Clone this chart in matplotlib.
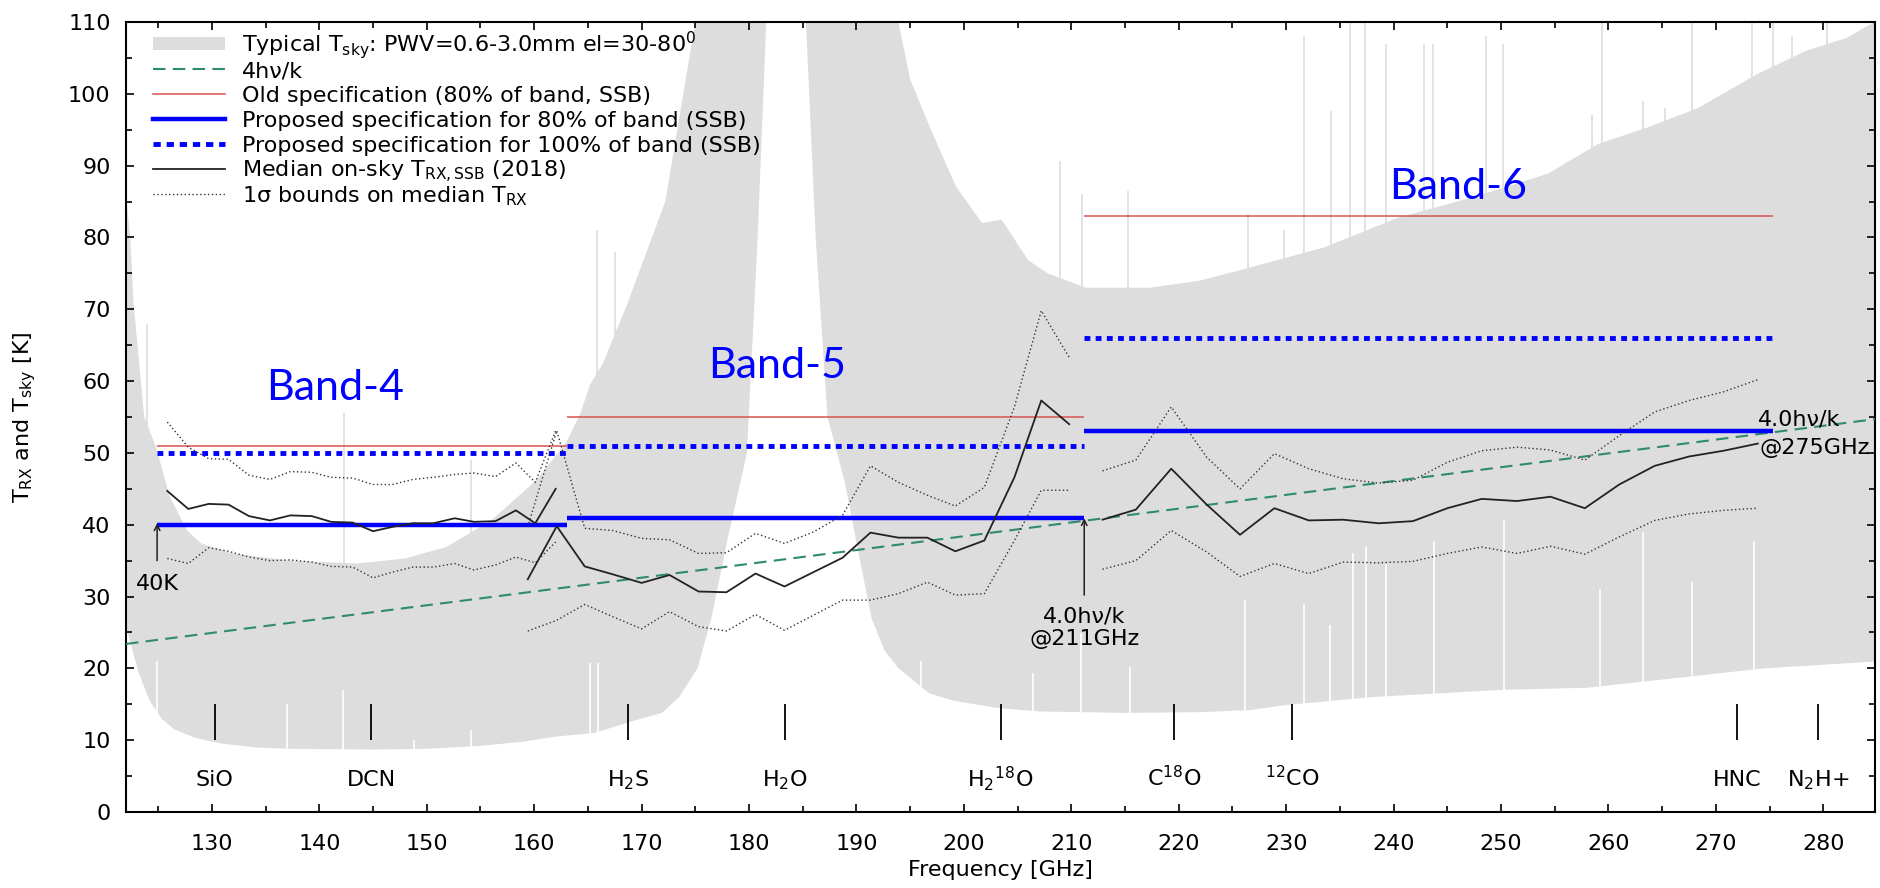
import numpy as np
import matplotlib
matplotlib.use('Agg')
import matplotlib.pyplot as plt
from matplotlib.lines import Line2D
from matplotlib.patches import Rectangle
from matplotlib.ticker import MultipleLocator

plt.rcParams['font.family'] = ['DejaVu Sans']
plt.rcParams['mathtext.fontset'] = 'dejavusans'
plt.rcParams['mathtext.default'] = 'regular'

# Tsky band: lower / upper envelope (GHz, K)
sky_lo_f = [122.0, 122.6, 123.2, 124.2, 125.3, 126.5, 128.5, 131.0, 134.0, 137.0, 145.0, 150.0,
            155.0, 159.0, 162.0, 165.6, 169.5, 171.9, 173.5, 175.2, 176.5, 178.0, 179.8, 180.8,
            181.6, 182.0, 185.0, 185.3, 186.2, 187.3, 188.9, 190.2, 191.4, 192.6, 193.9, 196.8,
            199.0, 203.0, 207.0, 215.0, 222.0, 226.7, 230.0, 238.0, 250.0, 258.0, 266.0, 274.5, 285.3]
sky_lo_t = [26.0, 22.5, 19.3, 15.5, 13.0, 11.5, 10.3, 9.5, 9.0, 8.8, 8.7, 8.8,
            9.2, 9.8, 10.5, 11.0, 12.8, 13.8, 16.0, 20.0, 27.0, 38.0, 50.0, 80.0,
            110.0, 150.0, 150.0, 110.0, 80.0, 55.0, 46.0, 36.0, 27.0, 22.5, 20.0, 16.5,
            15.5, 14.5, 14.0, 13.8, 13.9, 14.2, 14.9, 16.0, 17.0, 17.3, 18.6, 20.0, 21.0]
sky_hi_f = [122.0, 122.4, 122.7, 123.7, 124.8, 126.1, 127.7, 129.0, 131.9, 137.3, 143.5, 148.0,
            151.8, 156.0, 160.2, 163.0, 164.3, 165.2, 166.4, 168.6, 172.2, 175.0, 176.0, 193.0,
            193.9, 195.0, 197.1, 199.3, 201.7, 203.5, 206.0, 207.8, 211.4, 217.3, 222.0, 226.6,
            233.5, 240.5, 247.4, 254.4, 259.0, 263.6, 268.3, 273.9, 278.4, 282.2, 285.3]
sky_hi_t = [86.0, 80.0, 71.0, 55.0, 50.8, 43.8, 39.2, 37.4, 36.0, 35.0, 34.6, 35.3,
            36.9, 40.6, 46.2, 51.5, 55.5, 59.5, 62.5, 70.5, 85.0, 110.0, 200.0, 200.0,
            110.0, 102.0, 94.4, 87.0, 82.0, 82.5, 76.8, 75.0, 73.0, 73.0, 74.0, 75.8,
            78.6, 82.8, 85.6, 88.9, 93.0, 95.3, 98.0, 102.8, 106.0, 107.8, 110.5]

# narrow atmospheric lines: spikes on the upper and lower envelope
hi_spike_f = [124.0, 142.3, 154.1, 165.8, 167.5, 199.6, 208.9, 211.0, 215.3, 226.4, 229.8, 231.7,
              234.2, 235.9, 237.3, 239.3, 242.8, 243.7, 248.6, 250.2, 258.5, 259.4, 263.2, 265.3,
              267.8, 273.4, 275.3, 277.1, 280.3]
hi_spike_t = [68, 55.5, 49, 81, 78, 86, 90.7, 86, 86.5, 83.3, 81, 108,
              97.6, 110, 110, 107, 107, 107, 108, 107, 97, 110, 99, 98,
              110, 110, 110, 108, 110]
lo_spike_f = [124.9, 137.0, 142.2, 148.8, 154.1, 165.2, 165.9, 193.5, 196.0, 206.4, 210.9, 215.5,
              226.2, 231.7, 234.1, 236.2, 237.4, 239.3, 243.8, 250.3, 259.2, 263.2, 267.8, 273.5]
lo_spike_t = [21, 15, 17, 10, 11.4, 20.7, 20.7, 20, 21, 19.3, 24.9, 20.2,
              29.5, 29, 26, 36, 37, 34.6, 37.8, 40.6, 31, 39, 32, 37.8]

# 4hv/k line (end points)
hv_f = [122.0, 284.8]
hv_t = [23.4, 54.7]

# specifications per band
band_lo = [124.9, 163.1, 211.2]
band_hi = [163.1, 211.2, 275.3]
spec_old = [51, 55, 83]
spec_80 = [40, 41, 53]
spec_100 = [50, 51, 66]

# median on-sky Trx and 1-sigma bounds
b4_f = [125.85, 127.8, 129.7, 131.55, 133.45, 135.4, 137.3, 139.3, 141.1, 143.1,
        145.0, 146.8, 148.7, 150.6, 152.6, 154.4, 156.4, 158.3, 160.1, 162.0]
b4_med = [44.7, 42.2, 42.9, 42.8, 41.2, 40.6, 41.3, 41.2, 40.4, 40.3,
          39.1, 39.7, 40.2, 40.2, 40.9, 40.4, 40.5, 42.0, 40.2, 45.0]
b4_hi = [54.3, 50.8, 49.2, 49.1, 46.9, 46.3, 47.4, 47.3, 46.6, 46.5,
         45.6, 45.6, 46.3, 46.6, 47.0, 47.2, 46.7, 48.6, 45.9, 53.1]
b4_lo = [35.3, 34.6, 36.8, 36.3, 35.5, 35.0, 35.1, 34.8, 34.2, 34.1,
         32.6, 33.4, 34.1, 34.1, 34.6, 33.7, 34.4, 35.5, 34.7, 37.6]

b5_f = [159.4, 162.1, 164.7, 167.3, 170.0, 172.6, 175.3, 177.9, 180.6, 183.3,
        186.0, 188.7, 191.3, 193.9, 196.6, 199.2, 201.9, 204.7, 207.2, 209.8]
b5_med = [32.4, 39.8, 34.2, 33.1, 31.9, 33.0, 30.7, 30.6, 33.2, 31.4,
          33.4, 35.4, 38.9, 38.2, 38.2, 36.3, 37.8, 46.6, 57.3, 54.0]
b5_hi = [39.7, 53.1, 39.5, 39.2, 38.1, 37.9, 36.0, 36.1, 38.8, 37.4,
         39.0, 41.3, 48.2, 45.9, 44.1, 42.6, 45.2, 56.4, 69.8, 63.3]
b5_lo = [25.2, 26.7, 28.9, 27.2, 25.5, 27.9, 25.8, 25.2, 27.5, 25.3,
         27.4, 29.5, 29.5, 30.4, 32.0, 30.2, 30.4, 37.8, 44.8, 44.8]

b6_f = [212.9, 216.0, 219.3, 222.6, 225.7, 228.9, 232.1, 235.3, 238.6, 241.8,
        245.0, 248.2, 251.5, 254.6, 257.8, 261.0, 264.3, 267.5, 270.7, 273.9]
b6_med = [40.7, 42.1, 47.8, 42.8, 38.6, 42.3, 40.6, 40.7, 40.2, 40.5,
          42.3, 43.6, 43.3, 43.9, 42.3, 45.6, 48.2, 49.5, 50.3, 51.3]
b6_hi = [47.5, 49.0, 56.4, 49.4, 45.0, 49.9, 47.8, 46.4, 45.8, 46.2,
         48.7, 50.3, 50.8, 50.4, 49.0, 52.4, 55.7, 57.3, 58.5, 60.2]
b6_lo = [33.8, 35.0, 39.2, 36.2, 32.8, 34.6, 33.2, 34.8, 34.7, 34.9,
         36.0, 36.9, 36.0, 37.0, 35.9, 38.3, 40.6, 41.5, 42.0, 42.3]

# molecular lines
mol_f = [130.27, 144.83, 168.76, 183.31, 203.41, 219.56, 230.54, 271.98, 279.51]
mol_lbl = ['SiO', 'DCN', 'H$_2$S', 'H$_2$O', 'H$_2$$^{18}$O', 'C$^{18}$O', '$^{12}$CO', 'HNC', 'N$_2$H+']

band_names = ['Band-4', 'Band-5', 'Band-6']
band_txt_f = [141.5, 182.6, 246.0]
band_txt_t = [57.3, 60.4, 85.4]

GRAY = '#dddddd'
GREEN = '#2e8b6e'
RED = '#d9534f'
BLUE = '#0000ff'
DOT_BLUE = (0, (1.2, 1.1))
DOT_BLK = (0, (1, 1.8))
FS = 16

fig = plt.figure(figsize=(18.8, 8.88), dpi=100)
ax = fig.add_axes([0.0670, 0.0856, 0.9303, 0.8896])

# sky temperature band
grid = np.union1d(sky_lo_f, sky_hi_f)
ax.fill_between(grid, np.interp(grid, sky_lo_f, sky_lo_t), np.interp(grid, sky_hi_f, sky_hi_t),
                color=GRAY, lw=0, zorder=1)
ax.vlines(hi_spike_f, np.interp(hi_spike_f, sky_hi_f, sky_hi_t) - 1, hi_spike_t,
          color=GRAY, lw=1.2, zorder=1)
ax.vlines(lo_spike_f, 0, lo_spike_t, color='white', lw=1.2, zorder=1.1)

# 4hv/k
ax.plot(hv_f, hv_t, color=GREEN, lw=1.5, ls=(0, (6, 3.5)), zorder=3)

# specs
ax.hlines(spec_old, band_lo, band_hi, color=RED, lw=1.1, zorder=4)
ax.hlines(spec_100, band_lo, band_hi, color=BLUE, lw=3.5, linestyles=[DOT_BLUE], zorder=4)
ax.hlines(spec_80, band_lo, band_hi, color=BLUE, lw=3.2, zorder=4)

# measured receiver temperatures
for f, med, hi, lo in [(b4_f, b4_med, b4_hi, b4_lo), (b5_f, b5_med, b5_hi, b5_lo),
                       (b6_f, b6_med, b6_hi, b6_lo)]:
    ax.plot(f, hi, color='#333333', lw=1.0, ls=DOT_BLK, zorder=5)
    ax.plot(f, lo, color='#333333', lw=1.0, ls=DOT_BLK, zorder=5)
    ax.plot(f, med, color='#222222', lw=1.3, zorder=5)

# molecule markers
ax.vlines(mol_f, 10, 15, color='black', lw=1.3, zorder=6)
for f, lbl in zip(mol_f, mol_lbl):
    ax.text(f, 3.6, lbl, ha='center', va='baseline', fontsize=FS, zorder=6)

# annotations
arrow = dict(arrowstyle='->', lw=1.1, color='#222222', shrinkA=0, shrinkB=0)
ax.annotate('', xy=(124.9, 40.2), xytext=(124.9, 35.0), arrowprops=arrow, zorder=6)
ax.text(124.9, 30.9, '40K', ha='center', va='baseline', fontsize=FS)
ax.annotate('', xy=(211.2, 40.9), xytext=(211.2, 30.2), arrowprops=arrow, zorder=6)
ax.text(211.2, 26.4, '4.0hν/k', ha='center', va='baseline', fontsize=FS)
ax.text(211.2, 23.2, '@211GHz', ha='center', va='baseline', fontsize=FS)
ax.text(273.9, 53.8, '4.0hν/k', ha='left', va='baseline', fontsize=FS, zorder=6)
ax.text(274.1, 49.9, '@275GHz', ha='left', va='baseline', fontsize=FS, zorder=6)

for name, f, t in zip(band_names, band_txt_f, band_txt_t):
    ax.text(f, t, name, color=BLUE, fontsize=31, family=['Lato', 'DejaVu Sans'],
            ha='center', va='baseline', zorder=6)

# legend, drawn by hand (rows tightly packed like the original)
leg_rows = [
    ('Typical T$_{sky}$: PWV=0.6-3.0mm el=30-80$^{0}$', None),
    ('4hν/k', dict(color=GREEN, lw=1.5, ls=(0, (6, 3.5)))),
    ('Old specification (80% of band, SSB)', dict(color=RED, lw=1.1)),
    ('Proposed specification for 80% of band (SSB)', dict(color=BLUE, lw=3.2)),
    ('Proposed specification for 100% of band (SSB)', dict(color=BLUE, lw=3.5, ls=(0, (1.5, 1.2)))),
    ('Median on-sky T$_{RX,SSB}$ (2018)', dict(color='#222222', lw=1.3)),
    ('1σ bounds on median T$_{RX}$', dict(color='#333333', lw=1.0, ls=DOT_BLK)),
]
x0, x1, xt = 0.0154, 0.0566, 0.0663
for i, (lbl, style) in enumerate(leg_rows):
    yc = 0.9728 - i * 0.03165
    if style is None:
        ax.add_patch(Rectangle((x0, yc - 0.0082), x1 - x0, 0.0165, transform=ax.transAxes,
                               color=GRAY, lw=0, zorder=7))
    else:
        ax.add_line(Line2D([x0, x1], [yc, yc], transform=ax.transAxes, zorder=7, **style))
    ax.text(xt, yc - 0.0108, lbl, transform=ax.transAxes, ha='left', va='baseline',
            fontsize=FS, zorder=7)

ax.set_xlim(122, 284.8)
ax.set_ylim(0, 110)
ax.set_xticks(np.arange(130, 281, 10))
ax.set_yticks(np.arange(0, 111, 10))
ax.xaxis.set_minor_locator(MultipleLocator(5))
ax.yaxis.set_minor_locator(MultipleLocator(5))
ax.tick_params(which='both', direction='in', top=True, right=True, width=1.2, labelsize=FS)
ax.tick_params(which='major', length=6)
ax.tick_params(which='minor', length=4)
ax.tick_params(axis='x', pad=16)
ax.tick_params(axis='y', pad=11)
for s in ax.spines.values():
    s.set_linewidth(1.5)
ax.set_xlabel('Frequency [GHz]', fontsize=FS, labelpad=4)
ax.set_ylabel('T$_{RX}$ and T$_{sky}$ [K]', fontsize=FS, labelpad=22)

fig.savefig('out.png', dpi=100)
